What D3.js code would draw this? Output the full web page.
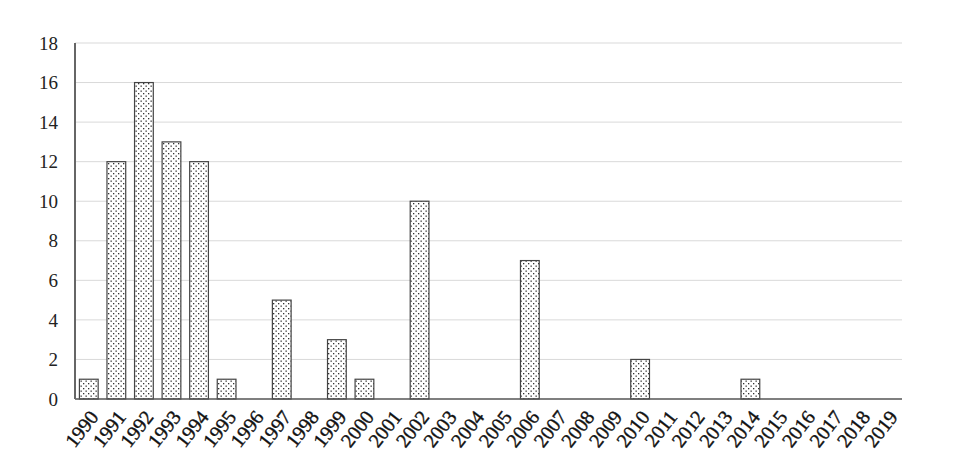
<!DOCTYPE html>
<html>
<head>
<meta charset="utf-8">
<script src="https://cdn.jsdelivr.net/npm/d3@7"></script>
<style>
  body { margin: 0; background: #fff; }
</style>
</head>
<body>
<div id="chart"></div>
<script>
const width = 968
const height = 465
const margin = {top: 43, right: 66, bottom: 66, left: 75}
const font = 'Liberation Serif, Times New Roman, Times, serif'

const years = d3.range(1990, 2020).map(String)
const counts = [1, 12, 16, 13, 12, 1, 0, 5, 0, 3, 1, 0, 10, 0, 0, 0, 7, 0, 0, 0, 2, 0, 0, 0, 1, 0, 0, 0, 0, 0]
const yTicks = [0, 2, 4, 6, 8, 10, 12, 14, 16, 18]

const data = years.map((y, i) => ({year: y, value: counts[i]}))

const svg = d3.select('#chart')
    .append('svg')
    .attr('width', width)
    .attr('height', height)

// dotted fill
const pat = svg.append('defs').append('pattern')
    .attr('id', 'dots')
    .attr('patternUnits', 'userSpaceOnUse')
    .attr('width', 5)
    .attr('height', 5)
pat.append('rect').attr('width', 5).attr('height', 5).attr('fill', '#fff')
pat.append('rect').attr('x', 0.5).attr('y', 0.5).attr('width', 1.3).attr('height', 1.3).attr('fill', '#333')
pat.append('rect').attr('x', 3).attr('y', 3).attr('width', 1.3).attr('height', 1.3).attr('fill', '#333')

const x = d3.scaleBand()
    .domain(years)
    .range([margin.left, width - margin.right])
    .paddingInner(0.32)
    .paddingOuter(0.16)

const y = d3.scaleLinear()
    .domain([0, 18])
    .range([height - margin.bottom, margin.top])

// gridlines
svg.append('g')
    .selectAll('line')
    .data(yTicks.filter(d => d > 0))
    .enter()
    .append('line')
    .attr('x1', margin.left)
    .attr('x2', width - margin.right)
    .attr('y1', d => y(d))
    .attr('y2', d => y(d))
    .attr('stroke', '#d9d9d9')
    .attr('stroke-width', 1)

// y tick labels
svg.append('g')
    .selectAll('text')
    .data(yTicks)
    .enter()
    .append('text')
    .attr('x', margin.left - 17)
    .attr('y', d => y(d))
    .attr('dy', '0.35em')
    .attr('text-anchor', 'end')
    .attr('font-family', font)
    .attr('font-size', 19)
    .attr('fill', '#222')
    .text(d => d)

// bars
svg.append('g')
    .selectAll('rect')
    .data(data.filter(d => d.value > 0))
    .enter()
    .append('rect')
    .attr('x', d => x(d.year))
    .attr('y', d => y(d.value))
    .attr('width', x.bandwidth())
    .attr('height', d => y(0) - y(d.value))
    .attr('fill', 'url(#dots)')
    .attr('stroke', '#444')
    .attr('stroke-width', 1.2)

// axes lines
svg.append('line')
    .attr('x1', margin.left)
    .attr('x2', width - margin.right)
    .attr('y1', y(0))
    .attr('y2', y(0))
    .attr('stroke', '#555')
    .attr('stroke-width', 1.5)

svg.append('line')
    .attr('x1', margin.left)
    .attr('x2', margin.left)
    .attr('y1', y(18))
    .attr('y2', y(0))
    .attr('stroke', '#666')
    .attr('stroke-width', 2)

// x tick labels
svg.append('g')
    .selectAll('text')
    .data(years)
    .enter()
    .append('text')
    .attr('transform', d => `translate(${x(d) + x.bandwidth() / 2 + 5},${y(0) + 14}) rotate(-52)`)
    .attr('text-anchor', 'end')
    .attr('dy', '0.35em')
    .attr('font-family', font)
    .attr('font-size', 20)
    .attr('fill', '#111')
    .attr('stroke', '#111')
    .attr('stroke-width', 0.4)
    .text(d => d)
</script>
</body>
</html>
